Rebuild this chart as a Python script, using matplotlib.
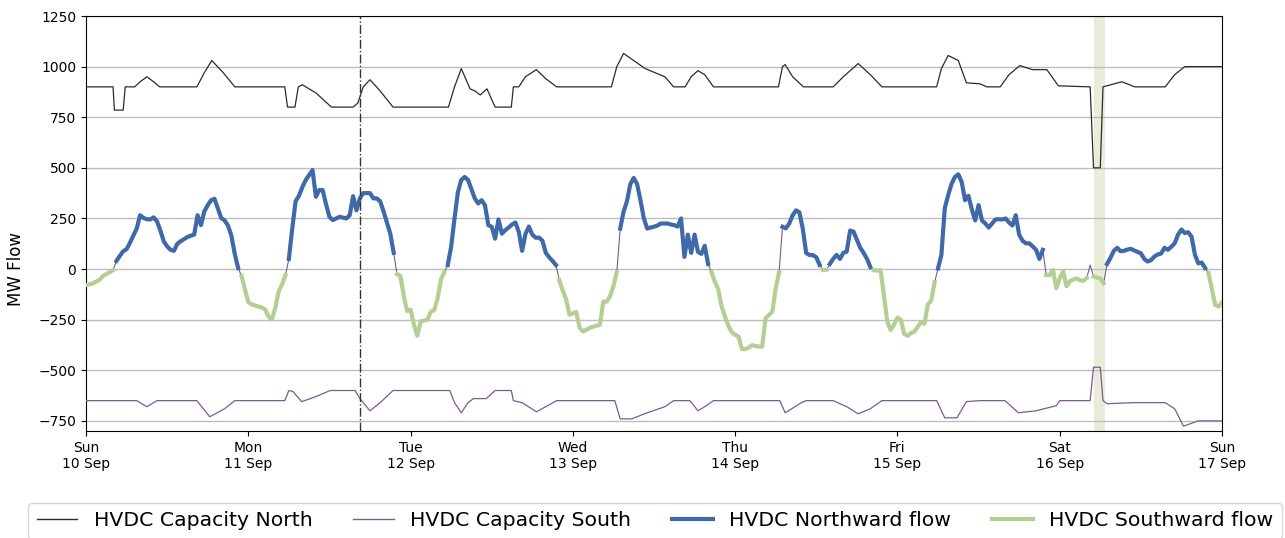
import numpy as np
import pandas as pd
import matplotlib
matplotlib.use("Agg")
import matplotlib.pyplot as plt
import matplotlib.dates as mdates
from matplotlib.lines import Line2D

# HVDC link flow, half-hourly MW (positive = northward), Sun 10 Sep 00:00 .. Sun 17 Sep 00:00
start = pd.Timestamp("2023-09-10 00:00")
flow_mw = [
    -79, -75, -71, -62, -54, -35, -25, -16, -5, 40,
    65, 88, 98, 130, 165, 200, 266, 252, 246, 245,
    255, 236, 190, 137, 112, 95, 90, 125, 137, 148,
    158, 165, 170, 266, 217, 285, 315, 340, 347, 300,
    252, 240, 215, 165, 75, 5, -35, -100, -163, -175,
    -180, -185, -190, -200, -235, -250, -190, -110, -75, -30,
    50, 200, 335, 362, 405, 440, 464, 489, 357, 390,
    390, 320, 258, 242, 250, 258, 254, 250, 266, 360,
    290, 349, 375, 375, 375, 349, 349, 335, 285, 230,
    175, 80, -25, -35, -135, -208, -200, -275, -330, -258,
    -255, -250, -210, -203, -145, -50, -15, 20, 110, 250,
    380, 440, 455, 440, 395, 349, 324, 340, 316, 217,
    209, 150, 245, 175, 192, 205, 220, 230, 184, 90,
    175, 210, 170, 155, 155, 140, 80, 58, 40, 20,
    -55, -105, -150, -225, -219, -212, -290, -308, -300, -290,
    -285, -280, -276, -161, -161, -135, -85, -15, 200, 283,
    335, 420, 450, 420, 340, 250, 200, 205, 209, 215,
    225, 225, 225, 220, 217, 210, 250, 60, 170, 80,
    170, 85, 75, 115, 25, -15, -64, -100, -185, -235,
    -280, -312, -325, -333, -395, -396, -388, -376, -380, -383,
    -383, -243, -227, -211, -95, -15, 209, 201, 225, 265,
    290, 280, 200, 80, 69, 69, 58, 20, -5, -3,
    25, 50, 70, 50, 80, 86, 190, 185, 145, 105,
    80, 50, 10, -5, -8, -5, -128, -260, -301, -275,
    -240, -250, -320, -330, -316, -310, -285, -262, -270, -175,
    -155, -65, 3, 69, 300, 365, 420, 455, 468, 431,
    340, 362, 295, 240, 316, 240, 225, 205, 225, 245,
    246, 245, 250, 230, 215, 266, 170, 140, 127, 127,
    112, 95, 50, 95, -30, -30, -5, -95, -46, -10,
    -85, -60, -52, -46, -55, -58, -44, 20, -36, -42,
    -46, -70, 25, 55, 90, 105, 88, 90, 96, 100,
    92, 85, 78, 50, 37, 44, 62, 72, 77, 105,
    95, 110, 127, 170, 195, 178, 182, 160, 70, 28,
    32, 5, -20, -100, -178, -185, -165,
]

# Northward capacity, breakpoints (hours from start, MW)
cap_north_h = [
    0, 4.0, 4.2, 5.5, 5.8, 7.2, 8.0, 9.0, 10.0, 10.9, 16.4, 17.5, 18.6, 20.3, 22.0,
    29.4, 29.8, 30.9, 31.4, 32.0, 34.0, 36.3, 39.5, 40.2, 41.0, 42.0, 43.5, 45.4,
    53.6, 54.5, 55.5, 56.8, 57.5, 58.3, 59.3, 60.5, 62.9, 63.2, 64.0, 65.0, 66.6,
    68.0, 69.6, 77.7, 78.5, 79.5, 81.0, 82.7, 85.6, 86.9, 88.6, 89.5, 90.5, 91.5,
    92.8, 102.4, 103.0, 103.4, 104.5, 106.1, 110.5, 112.0, 114.2, 116.0, 117.7,
    125.8, 126.5, 127.5, 129.0, 130.2, 132.2, 133.2, 135.2, 136.5, 138.1, 140.0,
    142.1, 143.8, 148.5, 149.0, 150.0, 150.4, 153.2, 155.1, 159.6, 161.0, 162.5, 168.0,
]
cap_north_mw = [
    900, 900, 785, 785, 900, 900, 925, 950, 925, 900, 900, 970, 1030, 970, 900,
    900, 800, 800, 900, 910, 870, 800, 800, 820, 900, 935, 880, 800,
    800, 900, 990, 890, 880, 860, 890, 800, 800, 900, 900, 950, 985,
    940, 900, 900, 1000, 1065, 1030, 990, 950, 900, 900, 950, 980, 960,
    900, 900, 1000, 1010, 950, 900, 900, 950, 1015, 960, 900,
    900, 990, 1055, 1030, 920, 915, 900, 900, 960, 1005, 985,
    985, 905, 900, 500, 500, 900, 925, 900, 900, 960, 1000, 1000,
]

# Southward capacity, breakpoints (hours from start, MW)
cap_south_h = [
    0, 7.5, 9.0, 10.5, 16.4, 18.3, 20.5, 22.0, 29.4, 30.0, 30.6, 31.9, 34.0, 36.1,
    39.8, 40.5, 42.0, 43.5, 45.4, 53.8, 54.5, 55.5, 56.5, 57.3, 59.2, 60.5, 62.9,
    63.2, 64.5, 66.6, 68.0, 69.6, 78.2, 79.0, 80.7, 83.0, 85.6, 86.9, 89.3, 90.5,
    91.5, 92.8, 102.6, 103.4, 105.8, 106.5, 110.5, 112.5, 114.2, 116.0, 117.7,
    125.8, 127.0, 128.8, 130.2, 132.2, 135.9, 137.9, 140.5, 143.5, 144.0, 148.5,
    149.0, 150.0, 150.4, 151.0, 155.0, 159.6, 161.0, 162.3, 164.5, 168.0,
]
cap_south_mw = [
    -650, -650, -680, -650, -650, -730, -690, -650, -650, -600, -605, -655, -630, -600,
    -600, -640, -700, -660, -600, -600, -660, -710, -660, -640, -640, -600, -600,
    -650, -660, -705, -680, -650, -650, -740, -740, -710, -680, -650, -650, -700,
    -680, -650, -650, -710, -660, -650, -650, -680, -715, -690, -650,
    -650, -735, -735, -655, -650, -650, -710, -700, -675, -650, -650,
    -485, -485, -650, -665, -660, -660, -690, -776, -750, -750,
]

# Event markers
marker_hour = 40.5
shade_hours = (149.0, 150.7)

times = start + pd.to_timedelta(np.arange(len(flow_mw)) * 0.5, unit="h")
flow = np.array(flow_mw, dtype=float)
north = np.ma.masked_where(flow < 0, flow)
south = np.ma.masked_where(flow >= 0, flow)
t_north = start + pd.to_timedelta(cap_north_h, unit="h")
t_south = start + pd.to_timedelta(cap_south_h, unit="h")

c_north_cap = "#2b2b2b"
c_south_cap = "#7d5a92"
c_nflow = "#3f69a8"
c_sflow = "#b3cf93"

fig = plt.figure(figsize=(12.85, 5.38), dpi=100)
ax = fig.add_axes([86 / 1285, 1 - 431 / 538, (1222 - 86) / 1285, (431 - 16) / 538])

ax.axvspan(start + pd.Timedelta(hours=shade_hours[0]), start + pd.Timedelta(hours=shade_hours[1]),
           color="#e9ecd9", zorder=0, lw=0)
ax.grid(axis="y", color="#bdbdbd", lw=1.0, zorder=0)

ax.plot(t_north, cap_north_mw, color=c_north_cap, lw=0.9, zorder=3)
ax.plot(t_south, cap_south_mw, color=c_south_cap, lw=0.9, zorder=3)
ax.plot(times, flow, color=c_south_cap, lw=0.8, zorder=2)
ax.plot(times, north, color=c_nflow, lw=3.0, zorder=4, solid_joinstyle="round")
ax.plot(times, south, color=c_sflow, lw=3.0, zorder=4, solid_joinstyle="round")

ax.axvline(start + pd.Timedelta(hours=marker_hour), color="#333333", lw=1.0, ls="-.", zorder=5)

ax.set_xlim(start, start + pd.Timedelta(days=7))
ax.set_ylim(-800, 1250)
ax.set_yticks(np.arange(-750, 1251, 250))
ax.xaxis.set_major_locator(mdates.DayLocator())
ax.xaxis.set_major_formatter(mdates.DateFormatter("%a\n%d %b"))
ax.tick_params(axis="both", labelsize=10)
ax.set_ylabel("MW Flow", fontsize=12)
ax.yaxis.set_label_coords(-0.054, 0.39)

handles = [
    Line2D([], [], color=c_north_cap, lw=1.0),
    Line2D([], [], color=c_south_cap, lw=1.0),
    Line2D([], [], color=c_nflow, lw=3.0),
    Line2D([], [], color=c_sflow, lw=3.0),
]
labels = ["HVDC Capacity North", "HVDC Capacity South", "HVDC Northward flow", "HVDC Southward flow"]
fig.legend(handles, labels, loc="upper center", bbox_to_anchor=(0.5097, 1 - 493 / 538),
           ncol=4, fontsize=14.7, frameon=True, columnspacing=2.0)

fig.savefig("out.png", dpi=100)
